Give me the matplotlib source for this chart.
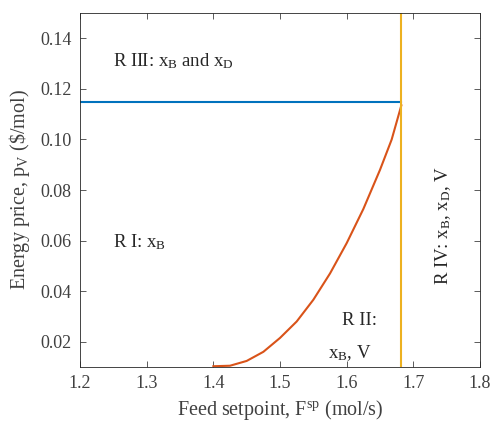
import numpy as np
import matplotlib.pyplot as plt

plt.rcParams['font.family'] = ['Liberation Serif', 'DejaVu Serif']
plt.rcParams['mathtext.fontset'] = 'custom'
plt.rcParams['mathtext.rm'] = 'Liberation Serif'
plt.rcParams['mathtext.it'] = 'Liberation Serif'

# region boundaries
price_limit = 0.1147
feed_limit = 1.682

# R I / R II boundary curve
feed_curve = [1.40, 1.425, 1.45, 1.475, 1.50, 1.525, 1.55, 1.575, 1.60, 1.625, 1.65, 1.6675, 1.682]
price_curve = [0.0103, 0.0105, 0.0124, 0.016, 0.0215, 0.028, 0.0366, 0.0470, 0.0590, 0.0725, 0.0880, 0.1000, 0.1135]

x_ticks = [1.2, 1.3, 1.4, 1.5, 1.6, 1.7, 1.8]
y_ticks = [0.02, 0.04, 0.06, 0.08, 0.10, 0.12, 0.14]

fig = plt.figure(figsize=(4.91, 4.23), dpi=100)
ax = fig.add_axes([0.163, 0.1324, 0.8146, 0.8366])

ax.plot([1.2, feed_limit], [price_limit, price_limit], color='#0072BD', lw=1.5)
ax.plot(feed_curve, price_curve, color='#D95319', lw=1.5)
ax.axvline(feed_limit, color='#EDB120', lw=1.5)

ax.set_xlim(1.2, 1.8)
ax.set_ylim(0.01, 0.15)
ax.set_xticks(x_ticks)
ax.set_xticklabels([f"{v:.1f}" for v in x_ticks])
ax.set_yticks(y_ticks)
ax.set_yticklabels([f"{v:.2f}" for v in y_ticks])

gray = '#262626'
ax.tick_params(direction='in', top=True, right=True, labelsize=13, colors='#404040',
               length=4, width=0.6, pad=6)
for s in ax.spines.values():
    s.set_color(gray)
    s.set_linewidth(0.6)

ax.set_xlabel(r'Feed setpoint, F$^{\rm sp}$ (mol/s)', fontsize=14.5, color='#404040', labelpad=4)
ax.set_ylabel(r'Energy price, p$_{\rm V}$ (\$/mol)', fontsize=14.5, color='#404040', labelpad=6)

tk = dict(fontsize=13.5, color='#262626')
ax.text(1.25, 0.131, r'R III: x$_{\rm B}$ and x$_{\rm D}$', va='center', **tk)
ax.text(1.25, 0.0595, r'R I: x$_{\rm B}$', va='center', **tk)
ax.text(1.619, 0.0285, 'R II:', ha='center', va='center', **tk)
ax.text(1.604, 0.0155, r'x$_{\rm B}$, V', ha='center', va='center', **tk)
ax.text(1.744, 0.066, r'R IV: x$_{\rm B}$, x$_{\rm D}$, V', rotation=90,
        ha='center', va='center', **tk)

fig.savefig('out.png', dpi=100)
